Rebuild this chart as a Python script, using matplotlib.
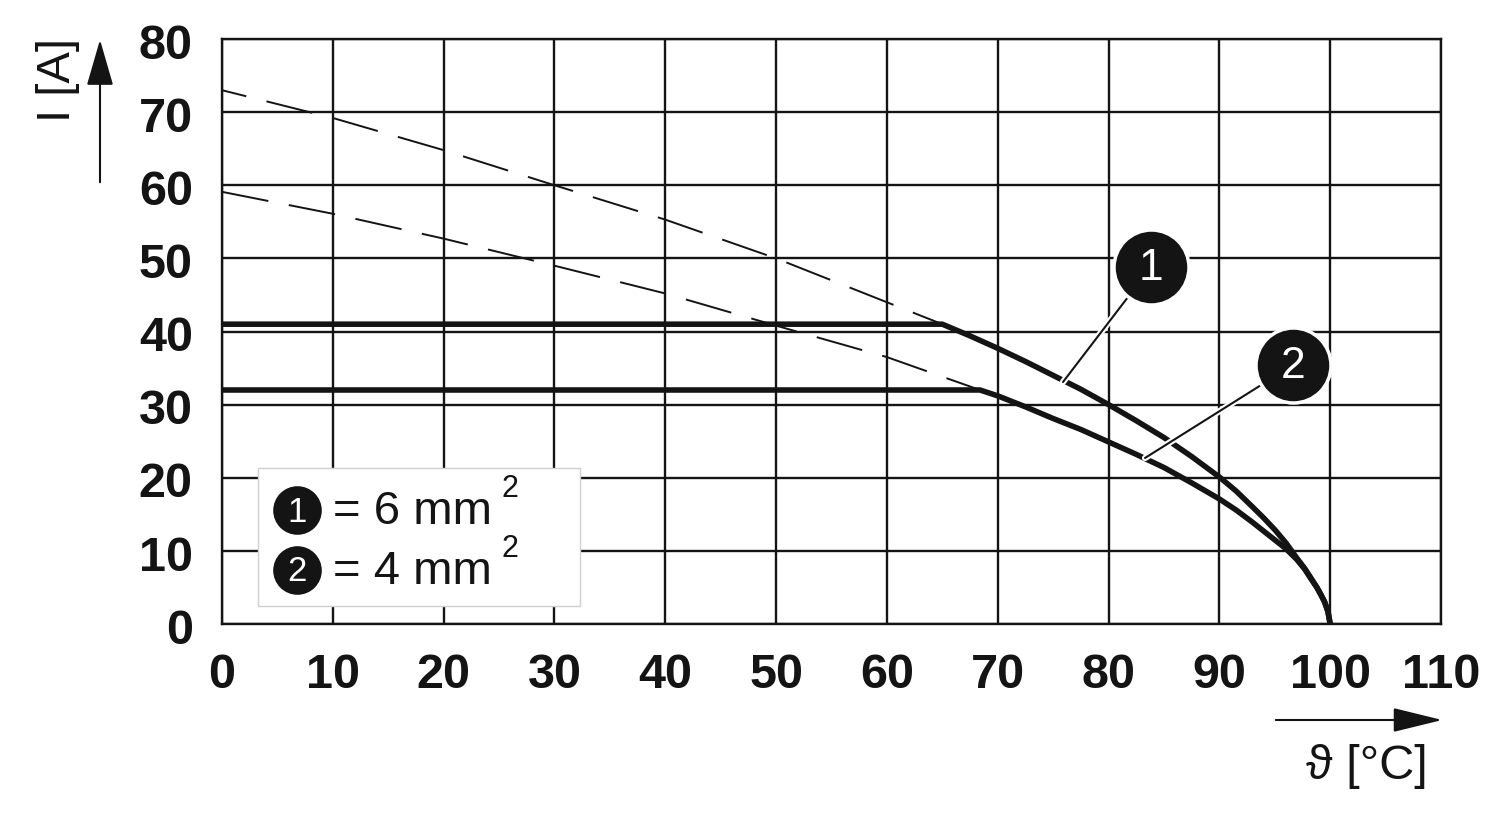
import matplotlib
matplotlib.use("Agg")
import matplotlib.pyplot as plt
import matplotlib.patheffects as pe
import matplotlib.transforms as mtrans
from matplotlib.lines import Line2D
from matplotlib.patches import Rectangle, FancyArrowPatch

plt.rcParams['font.family'] = ['Liberation Sans', 'DejaVu Sans']

# ---------------- data ----------------
x_ticks = [0, 10, 20, 30, 40, 50, 60, 70, 80, 90, 100, 110]
y_ticks = [0, 10, 20, 30, 40, 50, 60, 70, 80]

# curve 1 (6 mm2)
t1_plateau = [0, 65]
i1_plateau = [41, 41]
t1_dashed = [0, 10, 20, 30, 40, 50, 60, 65]
i1_dashed = [73.0, 69.2, 64.8, 60.0, 55.3, 50.0, 44.0, 41.0]
t1_derate = [65, 67.5, 70, 72.5, 75, 77.5, 80, 82.5, 85, 87.5, 90, 91.5, 93,
             94, 95, 96, 97, 97.7, 98.3, 98.8, 99.2, 99.5, 99.8, 100]
i1_derate = [41.0, 39.4, 37.7, 35.9, 34.0, 32.1, 30.0, 27.8, 25.5, 22.9, 20.1,
             18.2, 16.0, 14.5, 12.9, 11.1, 9.0, 7.6, 6.2, 5.0, 3.9, 3.0, 1.7, 0.0]

# curve 2 (4 mm2)
t2_plateau = [0, 68.4]
i2_plateau = [32, 32]
t2_dashed = [0, 10, 20, 30, 40, 50, 60, 68.4]
i2_dashed = [59.1, 56.1, 52.7, 49.0, 45.2, 40.8, 36.5, 32.0]
t2_derate = [68.4, 70, 72.5, 75, 77.5, 80, 82.5, 85, 87.5, 90, 91.5, 93,
             94, 95, 96, 97, 97.7, 98.3, 98.8, 99.2, 99.5, 99.8, 100]
i2_derate = [32.0, 31.2, 29.7, 28.1, 26.6, 24.9, 23.2, 21.4, 19.3, 17.1,
             15.6, 13.9, 12.7, 11.5, 10.3, 8.8, 7.5, 6.1, 5.0, 3.9, 3.0, 1.7, 0.0]

legend_labels = ["= 6 mm", "= 4 mm"]
callout_numbers = ["1", "2"]
x_label = "\u03d1 [\u00b0C]"
y_label = "I [A]"

INK = '#141414'

# ---------------- figure ----------------
W, H = 1500, 820
fig = plt.figure(figsize=(W / 100, H / 100), dpi=100)
fig.patch.set_facecolor('white')

def fx(px):
    return px / W

def fy(py):
    return 1 - py / H

ax = fig.add_axes([fx(222), fy(625), fx(1441) - fx(222), fy(40) - fy(625)])
ax.set_xlim(0, 110)
ax.set_ylim(0, 80)
ax.set_xticks(x_ticks)
ax.set_yticks(y_ticks)
ax.set_xticklabels([str(v) for v in x_ticks], fontsize=35, fontweight='bold', color=INK)
ax.set_yticklabels([str(v) for v in y_ticks], fontsize=35, fontweight='bold', color=INK)
ax.tick_params(axis='both', length=0)
ax.tick_params(axis='x', pad=20)
ax.tick_params(axis='y', pad=21)
shift = mtrans.ScaledTranslation(0, -4.5 / 72, fig.dpi_scale_trans)
for lab in ax.get_yticklabels():
    lab.set_verticalalignment('center')
    lab.set_transform(lab.get_transform() + shift)
ax.grid(True, color=INK, lw=1.7)
ax.set_axisbelow(True)
for s in ax.spines.values():
    s.set_linewidth(1.7)
    s.set_color(INK)

lw_d = 1.4
ax.plot(t1_dashed, i1_dashed, color=INK, lw=lw_d,
        linestyle=(16 / lw_d, (34 / lw_d, 15 / lw_d)), zorder=3)
ax.plot(t2_dashed, i2_dashed, color=INK, lw=lw_d,
        linestyle=(0, (34 / lw_d, 15 / lw_d)), zorder=3)

for tp, ip, td, idr in [(t1_plateau, i1_plateau, t1_derate, i1_derate),
                        (t2_plateau, i2_plateau, t2_derate, i2_derate)]:
    ax.plot(tp + td, ip + idr, color=INK, lw=4.0, zorder=4,
            solid_joinstyle='round', solid_capstyle='round')

# ---------------- callouts ----------------
callouts = [((1151, 268), (1063, 383)), ((1293, 366), (1145, 459))]
for num, ((cx, cy), (tx, ty)) in zip(callout_numbers, callouts):
    ax.annotate('', xy=(fx(tx), fy(ty)), xycoords='figure fraction',
                xytext=(fx(cx), fy(cy)), textcoords='figure fraction',
                arrowprops=dict(arrowstyle='-', color=INK, lw=1.5,
                                shrinkA=28, shrinkB=0,
                                path_effects=[pe.Stroke(linewidth=4.5, foreground='white'),
                                              pe.Normal()]),
                zorder=6)
    fig.add_artist(Line2D([fx(cx)], [fy(cy)], marker='o', ms=54, mfc=INK,
                          mec='white', mew=2.5, zorder=7))
    fig.text(fx(cx), fy(cy + 1), num, color='white', fontsize=32,
             ha='center', va='center', zorder=8)

# ---------------- legend box ----------------
fig.add_artist(Rectangle((fx(258), fy(607)), fx(580) - fx(258), fy(469) - fy(607),
                         transform=fig.transFigure, facecolor='white',
                         edgecolor='#d0d0d0', lw=1.0, zorder=5))
for k, (num, lab) in enumerate(zip(callout_numbers, legend_labels)):
    cy = 511 + 60 * k
    fig.add_artist(Line2D([fx(297)], [fy(cy)], marker='o', ms=35, mfc=INK,
                          mec=INK, mew=0, zorder=6))
    fig.text(fx(297), fy(cy + 1), num, color='white', fontsize=25,
             ha='center', va='center', zorder=7)
    fig.text(fx(333), fy(cy + 1), lab, color=INK, fontsize=34,
             ha='left', va='center', zorder=7)
    fig.text(fx(501), fy(cy - 22), "2", color=INK, fontsize=22,
             ha='left', va='center', zorder=7)

# ---------------- axis labels and arrows ----------------
fig.text(fx(58), fy(80), y_label, rotation=90, fontsize=34, color=INK,
         ha='center', va='center')
fig.add_artist(FancyArrowPatch(
    (fx(100), fy(186)), (fx(100), fy(38)), transform=fig.transFigure,
    arrowstyle='-|>,head_length=1.45,head_width=0.42', mutation_scale=20,
    color=INK, lw=1.5))
fig.add_artist(FancyArrowPatch(
    (fx(1273), fy(721)), (fx(1445), fy(721)), transform=fig.transFigure,
    arrowstyle='-|>,head_length=1.55,head_width=0.38', mutation_scale=20,
    color=INK, lw=1.5))
fig.text(fx(1367), fy(767), x_label, fontsize=35, color=INK,
         ha='center', va='center')

fig.savefig("out.png", dpi=100, facecolor='white')
